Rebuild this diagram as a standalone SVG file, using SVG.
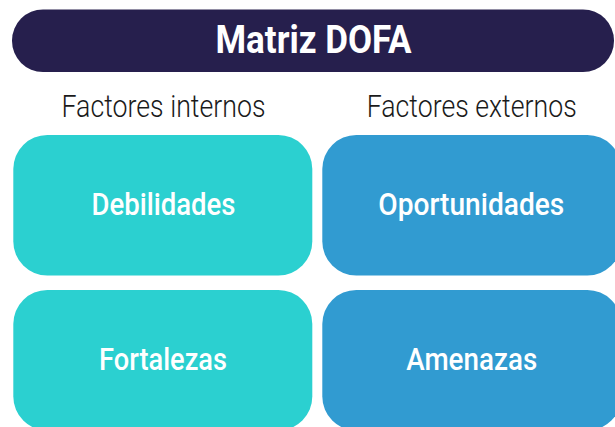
<svg xmlns="http://www.w3.org/2000/svg" width="615" height="427" viewBox="0 0 615 427">
  <style>
    .title { font-family: Roboto, "Open Sans", "Liberation Sans", sans-serif; font-weight: 700; font-size: 38.5px; fill: #ffffff; }
    .sub { font-family: Roboto, "Open Sans", "Liberation Sans", sans-serif; font-weight: 300; font-size: 31px; fill: #1a1a1a; }
    .lbl { font-family: Roboto, "Open Sans", "Liberation Sans", sans-serif; font-weight: 500; font-size: 30.5px; fill: #ffffff; }
    .int { fill: #2bd0d0; }
    .ext { fill: #319bd1; }
  </style>
  <rect x="0" y="0" width="615" height="427" fill="#ffffff"/>
  <g id="title">
    <rect x="12" y="9.5" width="602" height="62.5" rx="31" ry="31" fill="#261f4d"/>
    <text class="title" x="313.5" y="52.7" text-anchor="middle" textLength="196" lengthAdjust="spacingAndGlyphs">Matriz DOFA</text>
  </g>
  <g id="factores-internos">
    <text class="sub" x="163.5" y="116.5" text-anchor="middle" textLength="204" lengthAdjust="spacingAndGlyphs">Factores internos</text>
  </g>
  <g id="factores-externos">
    <text class="sub" x="471.7" y="116.5" text-anchor="middle" textLength="210" lengthAdjust="spacingAndGlyphs">Factores externos</text>
  </g>
  <g id="debilidades">
    <rect class="int" x="13.3" y="135" width="299" height="140.5" rx="34" ry="34"/>
    <text class="lbl" x="163.5" y="215" text-anchor="middle" textLength="144" lengthAdjust="spacingAndGlyphs">Debilidades</text>
  </g>
  <g id="oportunidades">
    <rect class="ext" x="322.3" y="135" width="299" height="140.5" rx="34" ry="34"/>
    <text class="lbl" x="471.3" y="215" text-anchor="middle" textLength="186" lengthAdjust="spacingAndGlyphs">Oportunidades</text>
  </g>
  <g id="fortalezas">
    <rect class="int" x="13.3" y="290" width="299" height="140.5" rx="34" ry="34"/>
    <text class="lbl" x="163" y="370" text-anchor="middle" textLength="128" lengthAdjust="spacingAndGlyphs">Fortalezas</text>
  </g>
  <g id="amenazas">
    <rect class="ext" x="322.3" y="290" width="299" height="140.5" rx="34" ry="34"/>
    <text class="lbl" x="471.7" y="370" text-anchor="middle" textLength="131" lengthAdjust="spacingAndGlyphs">Amenazas</text>
  </g>
</svg>
